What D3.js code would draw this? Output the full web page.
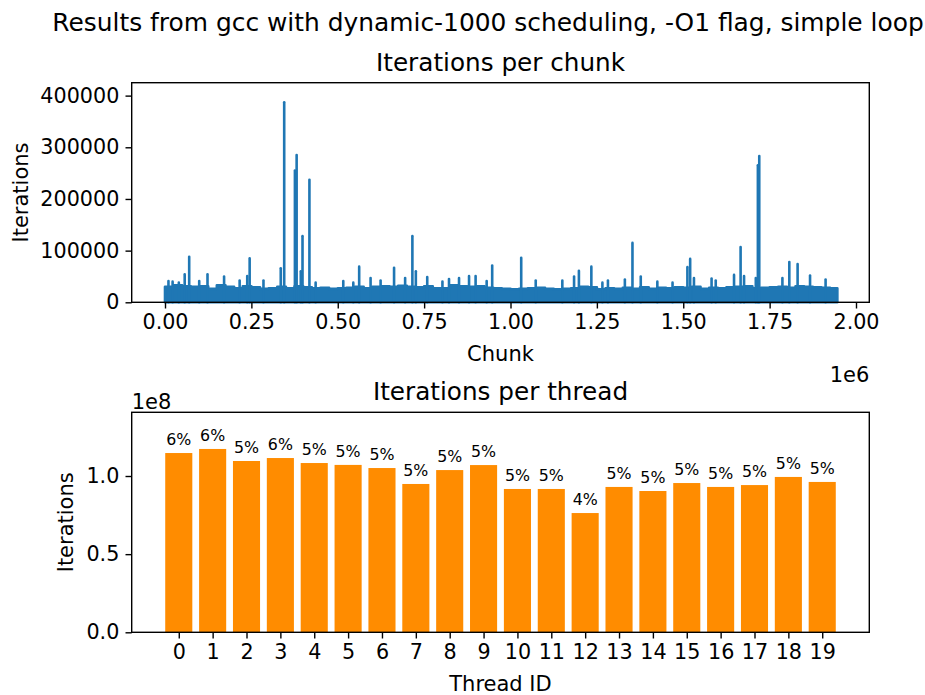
<!DOCTYPE html>
<meta charset="utf-8">
<head>
  <title>Iterations per chunk / thread</title>
</head>
<style>
  body { margin: 0; background: #fff; }
  svg { font-family: "DejaVu Sans", sans-serif; }
  .tick text { font-family: "DejaVu Sans", sans-serif; font-size: 20.7px; fill: #000; }
  .tick line { stroke: #000; stroke-width: 1.4px; }
  .domain { display: none; }
  .frame { fill: none; stroke: #000; stroke-width: 1.4px; }
</style>
<body>
<svg width="925" height="695"></svg>
<script src="https://cdn.jsdelivr.net/npm/d3@7"></script>
<script>
// ---- chunk plot: dense band (upper edge) ----
var bandChunk = [0, 25e3, 50e3, 75e3, 100e3, 125e3, 150e3, 175e3, 200e3, 225e3, 250e3, 275e3, 300e3, 325e3,
  350e3, 375e3, 400e3, 425e3, 450e3, 475e3, 500e3, 525e3, 550e3, 575e3, 600e3, 625e3, 650e3, 675e3,
  700e3, 725e3, 750e3, 775e3, 800e3, 825e3, 850e3, 875e3, 900e3, 925e3, 950e3, 975e3, 1000e3, 1025e3,
  1050e3, 1075e3, 1100e3, 1125e3, 1150e3, 1175e3, 1200e3, 1225e3, 1250e3, 1275e3, 1300e3, 1325e3, 1350e3,
  1375e3, 1400e3, 1425e3, 1450e3, 1475e3, 1500e3, 1525e3, 1550e3, 1575e3, 1600e3, 1625e3, 1650e3, 1675e3,
  1700e3, 1725e3, 1750e3, 1775e3, 1800e3, 1825e3, 1850e3, 1875e3, 1900e3, 1925e3, 1946e3];
var bandIter = [30e3, 33e3, 31e3, 30e3, 31e3, 26e3, 33e3, 30e3, 27e3, 31e3, 29e3, 26e3, 27e3, 30e3,
  27e3, 31e3, 29e3, 27e3, 28e3, 26e3, 27e3, 28e3, 30e3, 27e3, 30e3, 31e3, 30e3, 32e3,
  30e3, 29e3, 31e3, 27e3, 27e3, 33e3, 31e3, 30e3, 31e3, 28e3, 27e3, 26e3, 25e3, 26e3,
  27e3, 28e3, 26e3, 25e3, 26e3, 27e3, 30e3, 29e3, 25e3, 27e3, 26e3, 28e3, 26e3,
  29e3, 26e3, 28e3, 27e3, 29e3, 28e3, 30e3, 26e3, 28e3, 27e3, 29e3, 30e3, 31e3,
  27e3, 28e3, 29e3, 30e3, 28e3, 31e3, 30e3, 29e3, 28e3, 27e3, 22e3];

// ---- chunk plot: spikes above the band ----
var spikeChunk = [10e3, 22e3, 40e3, 57e3, 70e3, 99e3, 123e3, 171e3, 216e3, 238e3, 245e3, 285e3, 335e3, 345e3,
  376e3, 381e3, 393e3, 398e3, 418e3, 436e3, 516e3, 545e3, 562e3, 595e3, 624e3, 663e3, 695e3, 716e3,
  726e3, 759e3, 803e3, 822e3, 851e3, 880e3, 899e3, 931e3, 947e3, 1031e3, 1073e3, 1150e3, 1184e3, 1198e3,
  1234e3, 1266e3, 1282e3, 1331e3, 1353e3, 1377e3, 1425e3, 1469e3, 1512e3, 1520e3, 1531e3, 1582e3, 1594e3,
  1647e3, 1666e3, 1676e3, 1710e3, 1716e3, 1720e3, 1787e3, 1807e3, 1831e3, 1867e3, 1912e3];
var spikeIter = [41e3, 40e3, 38e3, 54e3, 88e3, 41e3, 54e3, 50e3, 42e3, 51e3, 85e3, 42e3, 66e3, 387e3,
  255e3, 285e3, 60e3, 128e3, 237e3, 38e3, 41e3, 38e3, 69e3, 47e3, 42e3, 67e3, 47e3, 128e3,
  60e3, 49e3, 40e3, 45e3, 47e3, 51e3, 51e3, 41e3, 71e3, 86e3, 42e3, 42e3, 50e3, 61e3,
  69e3, 38e3, 42e3, 44e3, 115e3, 50e3, 40e3, 38e3, 68e3, 84e3, 47e3, 46e3, 42e3,
  53e3, 107e3, 51e3, 47e3, 265e3, 283e3, 47e3, 78e3, 74e3, 52e3, 44e3];

var chunkTicks = [0, 0.25e6, 0.5e6, 0.75e6, 1e6, 1.25e6, 1.5e6, 1.75e6, 2e6];
var chunkTickLabels = ["0.00", "0.25", "0.50", "0.75", "1.00", "1.25", "1.50", "1.75", "2.00"];
var iterTicks = [0, 100000, 200000, 300000, 400000];

// ---- thread plot ----
var threadIds = [0, 1, 2, 3, 4, 5, 6, 7, 8, 9, 10, 11, 12, 13, 14, 15, 16, 17, 18, 19];
var threadIters = [1.147e8, 1.173e8, 1.096e8, 1.115e8, 1.083e8, 1.071e8, 1.051e8, 0.949e8, 1.038e8, 1.070e8,
  0.917e8, 0.917e8, 0.763e8, 0.930e8, 0.904e8, 0.955e8, 0.930e8, 0.942e8, 0.994e8, 0.962e8];
var threadPct = ["6%", "6%", "5%", "6%", "5%", "5%", "5%", "5%", "5%", "5%",
  "5%", "5%", "4%", "5%", "5%", "5%", "5%", "5%", "5%", "5%"];
var threadYTicks = [0, 0.5e8, 1e8];
var threadYLabels = ["0.0", "0.5", "1.0"];

var svg = d3.select("svg");
var left = 131.7, right = 869.3;
var top1 = 82.7, bot1 = 302.3;
var top2 = 412.3, bot2 = 632.3;
var blue = "#1f77b4", orange = "#ff8c00";
var tickLen = 6.2, tickPad = 6.2;

svg.append("text")
  .attr("x", 488).attr("y", 31)
  .attr("text-anchor", "middle")
  .style("font-size", "24.9px")
  .text("Results from gcc with dynamic-1000 scheduling, -O1 flag, simple loop");

// ================= chunk chart =================
var x1 = d3.scaleLinear().domain([-0.0964e6, 2.0385e6]).range([left, right]);
var y1 = d3.scaleLinear().domain([0, 425000]).range([bot1, top1]);

var g1 = svg.append("g");
var band = bandChunk.map(function(c, i) { return [c, bandIter[i]]; });
var area = d3.area()
  .curve(d3.curveStepAfter)
  .x(function(d) { return x1(d[0]); })
  .y0(y1(0))
  .y1(function(d) { return y1(d[1]); });
g1.append("path")
  .datum(band)
  .attr("d", area)
  .attr("fill", blue)
  .attr("stroke", blue)
  .attr("stroke-width", 2.6)
  .attr("stroke-linejoin", "round");

var line = d3.line().x(function(d) { return x1(d[0]); }).y(function(d) { return y1(d[1]); });
spikeChunk.forEach(function(c, i) {
  g1.append("path")
    .attr("d", line([[c, 0], [c, spikeIter[i]]]))
    .attr("fill", "none")
    .attr("stroke", blue)
    .attr("stroke-width", 2.6)
    .attr("stroke-linecap", "round");
});

svg.append("g")
  .attr("transform", "translate(0," + bot1 + ")")
  .call(d3.axisBottom(x1).tickValues(chunkTicks).tickSize(tickLen).tickPadding(tickPad)
    .tickFormat(function(d, i) { return chunkTickLabels[i]; }));
svg.append("g")
  .attr("transform", "translate(" + left + ",0)")
  .call(d3.axisLeft(y1).tickValues(iterTicks).tickSize(tickLen).tickPadding(tickPad).tickFormat(d3.format("d")));
svg.append("rect").attr("class", "frame")
  .attr("x", left).attr("y", top1).attr("width", right - left).attr("height", bot1 - top1);

svg.append("text").attr("x", (left + right) / 2).attr("y", 70.5)
  .attr("text-anchor", "middle").style("font-size", "24.7px").text("Iterations per chunk");
svg.append("text").attr("x", (left + right) / 2).attr("y", 360.5)
  .attr("text-anchor", "middle").style("font-size", "21px").text("Chunk");
svg.append("text").attr("x", right).attr("y", 382)
  .attr("text-anchor", "end").style("font-size", "21px").text("1e6");
svg.append("text")
  .attr("transform", "translate(28," + ((top1 + bot1) / 2) + ") rotate(-90)")
  .attr("text-anchor", "middle").style("font-size", "21px").text("Iterations");

// ================= thread chart =================
var barW = 0.8;
var pad = 0.05 * (threadIds.length - 1 + barW);
var x2 = d3.scaleLinear()
  .domain([threadIds[0] - barW / 2 - pad, threadIds[threadIds.length - 1] + barW / 2 + pad])
  .range([left, right]);
var y2 = d3.scaleLinear().domain([0, d3.max(threadIters) * 1.2]).range([bot2, top2]);

var g2 = svg.append("g");
g2.selectAll("rect.bar")
  .data(threadIds)
  .enter().append("rect")
  .attr("class", "bar")
  .attr("x", function(d) { return x2(d - barW / 2); })
  .attr("width", function(d) { return x2(d + barW / 2) - x2(d - barW / 2); })
  .attr("y", function(d, i) { return y2(threadIters[i]); })
  .attr("height", function(d, i) { return y2(0) - y2(threadIters[i]); })
  .attr("fill", orange);

g2.selectAll("text.pct")
  .data(threadIds)
  .enter().append("text")
  .attr("class", "pct")
  .attr("x", function(d) { return x2(d); })
  .attr("y", function(d, i) { return y2(threadIters[i]) - 8.3; })
  .attr("text-anchor", "middle")
  .style("font-size", "15.8px")
  .text(function(d, i) { return threadPct[i]; });

svg.append("g")
  .attr("transform", "translate(0," + bot2 + ")")
  .call(d3.axisBottom(x2).tickValues(threadIds).tickSize(tickLen).tickPadding(tickPad).tickFormat(d3.format("d")));
svg.append("g")
  .attr("transform", "translate(" + left + ",0)")
  .call(d3.axisLeft(y2).tickValues(threadYTicks).tickSize(tickLen).tickPadding(tickPad)
    .tickFormat(function(d, i) { return threadYLabels[i]; }));
svg.append("rect").attr("class", "frame")
  .attr("x", left).attr("y", top2).attr("width", right - left).attr("height", bot2 - top2);

svg.append("text").attr("x", (left + right) / 2).attr("y", 400)
  .attr("text-anchor", "middle").style("font-size", "24.7px").text("Iterations per thread");
svg.append("text").attr("x", (left + right) / 2).attr("y", 691)
  .attr("text-anchor", "middle").style("font-size", "21px").text("Thread ID");
svg.append("text").attr("x", left).attr("y", 409)
  .attr("text-anchor", "start").style("font-size", "21px").text("1e8");
svg.append("text")
  .attr("transform", "translate(73," + ((top2 + bot2) / 2) + ") rotate(-90)")
  .attr("text-anchor", "middle").style("font-size", "21px").text("Iterations");
</script>
</body>
</html>
